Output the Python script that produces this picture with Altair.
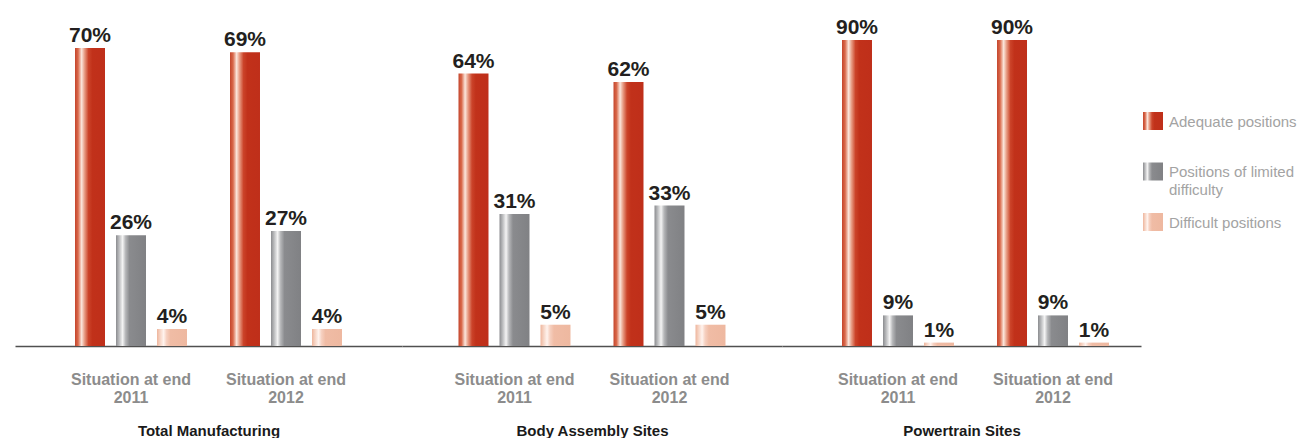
import altair as alt
import pandas as pd

groups = ["Total Manufacturing", "Body Assembly Sites", "Powertrain Sites"]
periods = ["Situation at end|2011", "Situation at end|2012"]
series = ["Adequate positions", "Positions of limited difficulty", "Difficult positions"]
legend_labels = ["Adequate positions", "Positions of limited\ndifficulty", "Difficult positions"]
adequate = [70, 69, 64, 62, 90, 90]
limited = [26, 27, 31, 33, 9, 9]
difficult = [4, 4, 5, 5, 1, 1]

rows = []
for gi, g in enumerate(groups):
    for pi, p in enumerate(periods):
        k = gi * 2 + pi
        for s, vals in zip(series, [adequate, limited, difficult]):
            rows.append({"group": g, "period": p, "series": s, "value": vals[k]})
df = pd.DataFrame(rows)
leg_df = pd.DataFrame({"series": series, "label": legend_labels})

FONT = "Liberation Sans, Arial, sans-serif"


def grad(stops):
    return alt.LinearGradient(
        gradient="linear", x1=0, x2=1, y1=0, y2=0,
        stops=[alt.GradientStop(offset=o, color=c) for o, c in stops],
    )


gradients = [
    grad([(0, "#c4452c"), (0.1, "#d9684a"), (0.22, "#fbe6dc"), (0.32, "#e79a82"),
          (0.45, "#cb4329"), (0.58, "#c1311a"), (1, "#bf2f1a")]),
    grad([(0, "#8b8c8f"), (0.1, "#b9babc"), (0.22, "#f4f4f4"), (0.32, "#b5b6b8"),
          (0.45, "#8a8b8e"), (1, "#808184")]),
    grad([(0, "#eeb59c"), (0.1, "#f6d3c3"), (0.22, "#fff3ee"), (0.32, "#f6d0c0"),
          (0.45, "#f0bca5"), (1, "#eeb8a0")]),
]

H = 341


def panel(g, width, pad_outer, align, ymax):
    base = alt.Chart(df).transform_filter(alt.datum.group == g).encode(
        x=alt.X(
            "period:N", sort=periods,
            scale=alt.Scale(paddingInner=0, paddingOuter=pad_outer, align=align),
            axis=alt.Axis(
                title=g, labelExpr="split(datum.label, '|')", ticks=False, labelAngle=0,
                domainColor="#505050", domainWidth=1.6,
                labelFont=FONT, labelFontSize=16, labelFontWeight="bold", labelColor="#8c8c8c",
                labelPadding=25, labelLineHeight=18,
                titleFont=FONT, titleFontSize=15, titleFontWeight="bold", titleColor="#1a1a1a",
                titleY=89, titleBaseline="alphabetic",
            ),
        ),
        xOffset=alt.XOffset("series:N", sort=series,
                            scale=alt.Scale(domain=series, paddingInner=0.2683, paddingOuter=0.5244)),
        y=alt.Y("value:Q", scale=alt.Scale(domain=[0, ymax]), axis=None),
    )
    layers = [
        base.transform_filter(alt.datum.series == s).mark_bar(fill=gr)
        for s, gr in zip(series, gradients)
    ]
    text = base.transform_calculate(lab="datum.value + '%'").mark_text(
        baseline="alphabetic", dy=-6, font=FONT, fontSize=21, fontWeight="bold", color="#231f20"
    ).encode(text="lab:N")
    return alt.layer(*layers, text).properties(width=width, height=H)


p1 = panel(groups[0], 387, 0.2484, 0.5, H / 4.257)
p2 = panel(groups[1], 380, 0.2258, 0.5, H / 4.257)
p3 = panel(groups[2], 359, 0.158, 0.786, H / 3.4)

yleg = alt.Y("series:N", sort=series,
             scale=alt.Scale(domain=series, range=[90.75, 242.25], paddingInner=0.6436, paddingOuter=0.3218),
             axis=None)
leg_base = alt.Chart(leg_df)
swatches = [
    leg_base.transform_filter(alt.datum.series == s).mark_rect(fill=gr).encode(
        y=yleg, x=alt.value(2), x2=alt.value(22))
    for s, gr in zip(series, gradients)
]
leg_text = leg_base.mark_text(
    align="left", baseline="alphabetic", dy=5.5, lineBreak="\n", lineHeight=18,
    font=FONT, fontSize=15, color="#a3a3a3"
).encode(y=yleg, x=alt.value(28), text="label:N")
legend = alt.layer(*swatches, leg_text).properties(width=155, height=H)

chart = alt.hconcat(p1, p2, p3, legend, spacing=0, bounds="flush").properties(
    padding={"left": 15, "top": 5, "right": 0, "bottom": 0},
    background="white",
).configure_view(stroke=None)

chart.save("out.html", embed_options={"renderer": "svg", "actions": False})
